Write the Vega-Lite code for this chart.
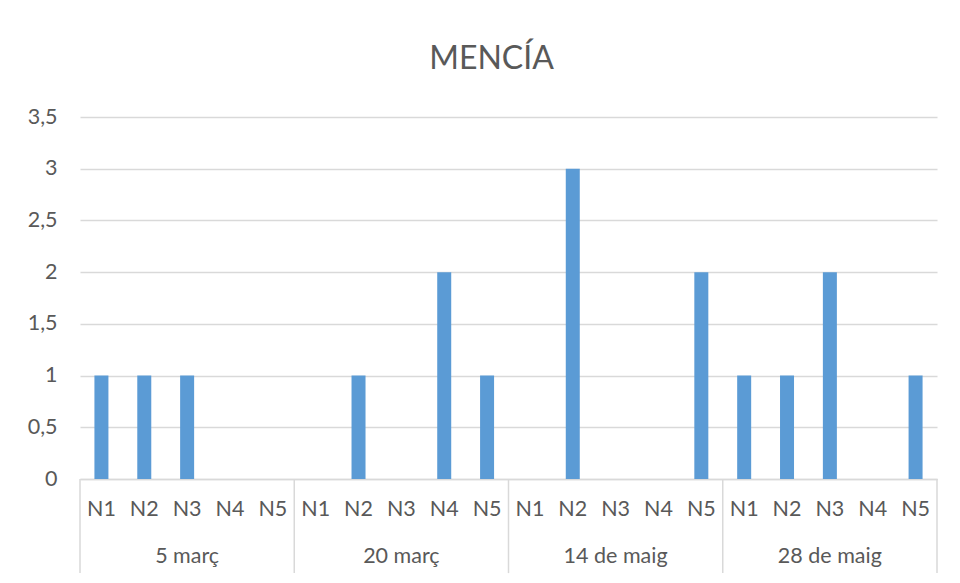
{
  "$schema": "https://vega.github.io/schema/vega-lite/v6.json",
  "autosize": "none",
  "width": 857,
  "height": 362,
  "padding": {"left": 80, "top": 117, "right": 23, "bottom": 104},
  "background": "white",
  "title": {"text": "MENCÍA", "fontSize": 32, "font": "Lato", "fontWeight": "normal", "color": "#595959", "offset": 30, "dx": -17, "anchor": "middle"},
  "config": {"view": {"stroke": null}, "font": "Lato"},
  "data": {"values": [
    {"g": "5 març", "n": "N1", "cat": "5 març|N1", "v": 1},
    {"g": "5 març", "n": "N2", "cat": "5 març|N2", "v": 1},
    {"g": "5 març", "n": "N3", "cat": "5 març|N3", "v": 1},
    {"g": "5 març", "n": "N4", "cat": "5 març|N4", "v": 0},
    {"g": "5 març", "n": "N5", "cat": "5 març|N5", "v": 0},
    {"g": "20 març", "n": "N1", "cat": "20 març|N1", "v": 0},
    {"g": "20 març", "n": "N2", "cat": "20 març|N2", "v": 1},
    {"g": "20 març", "n": "N3", "cat": "20 març|N3", "v": 0},
    {"g": "20 març", "n": "N4", "cat": "20 març|N4", "v": 2},
    {"g": "20 març", "n": "N5", "cat": "20 març|N5", "v": 1},
    {"g": "14 de maig", "n": "N1", "cat": "14 de maig|N1", "v": 0},
    {"g": "14 de maig", "n": "N2", "cat": "14 de maig|N2", "v": 3},
    {"g": "14 de maig", "n": "N3", "cat": "14 de maig|N3", "v": 0},
    {"g": "14 de maig", "n": "N4", "cat": "14 de maig|N4", "v": 0},
    {"g": "14 de maig", "n": "N5", "cat": "14 de maig|N5", "v": 2},
    {"g": "28 de maig", "n": "N1", "cat": "28 de maig|N1", "v": 1},
    {"g": "28 de maig", "n": "N2", "cat": "28 de maig|N2", "v": 1},
    {"g": "28 de maig", "n": "N3", "cat": "28 de maig|N3", "v": 2},
    {"g": "28 de maig", "n": "N4", "cat": "28 de maig|N4", "v": 0},
    {"g": "28 de maig", "n": "N5", "cat": "28 de maig|N5", "v": 1}
  ]},
  "encoding": {
    "x": {
      "field": "cat", "type": "nominal", "sort": null,
      "scale": {"paddingInner": 0, "paddingOuter": 0},
      "axis": {
        "title": null, "labelAngle": 0, "ticks": false, "domainColor": "#D9D9D9", "domainWidth": 1.5,
        "labelExpr": "split(datum.label, '|')[1]", "labelFont": "Lato", "labelFontSize": 21.5,
        "labelColor": "#595959", "labelPadding": 19, "grid": false
      }
    }
  },
  "layer": [
    {
      "mark": {"type": "bar", "color": "#5B9BD5", "width": 14},
      "encoding": {
        "y": {
          "field": "v", "type": "quantitative",
          "scale": {"domain": [0, 3.5], "nice": false, "zero": true},
          "axis": {
            "title": null, "values": [0, 0.5, 1, 1.5, 2, 2.5, 3, 3.5], "ticks": false, "domain": false,
            "grid": true, "gridColor": "#D9D9D9", "gridWidth": 1.5,
            "labelExpr": "replace(format(datum.value, '~g'), '.', ',')",
            "labelFont": "Lato", "labelFontSize": 21.5, "labelColor": "#595959", "labelPadding": 23
          }
        }
      }
    },
    {
      "transform": [{"filter": "datum.n == 'N1'"}],
      "mark": {"type": "rule", "color": "#D9D9D9", "strokeWidth": 1.5},
      "encoding": {
        "x": {"field": "cat", "type": "nominal", "sort": null, "bandPosition": 0},
        "y": {"datum": 0},
        "y2": {"datum": -0.91}
      }
    },
    {
      "transform": [{"filter": "datum.cat == '28 de maig|N5'"}],
      "mark": {"type": "rule", "color": "#D9D9D9", "strokeWidth": 1.5},
      "encoding": {
        "x": {"field": "cat", "type": "nominal", "sort": null, "bandPosition": 1},
        "y": {"datum": 0},
        "y2": {"datum": -0.91}
      }
    },
    {
      "transform": [{"filter": "datum.n == 'N3'"}],
      "mark": {"type": "text", "font": "Lato", "fontSize": 21.5, "color": "#595959", "baseline": "middle", "align": "center"},
      "encoding": {
        "x": {"field": "cat", "type": "nominal", "sort": null, "bandPosition": 0.5},
        "y": {"datum": -0.75},
        "text": {"field": "g"}
      }
    }
  ]
}
